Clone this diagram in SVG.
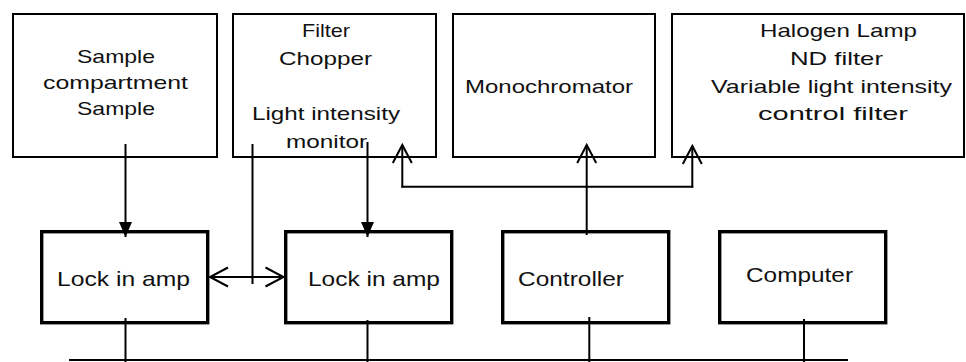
<svg xmlns="http://www.w3.org/2000/svg" width="966" height="362" viewBox="0 0 966 362">
<style>
.top rect{fill:#fff;stroke:#000;stroke-width:2}
.low rect{fill:#fff;stroke:#000;stroke-width:3.4}
text{font-family:"Liberation Sans",Arial,sans-serif;fill:#111;}
.t1{font-size:19px}
.t2{font-size:21px}
#connectors line,#connectors path{stroke:#000;stroke-width:2;fill:none}
</style>
<defs>
<marker id="open" markerUnits="userSpaceOnUse" markerWidth="22" markerHeight="22" refX="19" refY="10" orient="auto-start-reverse" overflow="visible">
<path d="M1,0.5 L19,10 L1,19.5" fill="none" stroke="#000" stroke-width="2"/>
</marker>
<marker id="fill" markerUnits="userSpaceOnUse" markerWidth="16" markerHeight="14" refX="15" refY="6.5" orient="auto" overflow="visible">
<path d="M0,0 L15,6.5 L0,13 Z" fill="#000"/>
</marker>
</defs>
<rect width="966" height="362" fill="#fff"/>

<g id="sample" class="top">
<rect x="13" y="14" width="204" height="143"/>
<text class="t1" x="77" y="63" textLength="78" lengthAdjust="spacingAndGlyphs">Sample</text>
<text class="t1" x="43" y="89" textLength="145" lengthAdjust="spacingAndGlyphs">compartment</text>
<text class="t1" x="77" y="115" textLength="78" lengthAdjust="spacingAndGlyphs">Sample</text>
</g>
<g id="filter" class="top">
<rect x="233" y="14" width="203" height="143"/>
<text class="t1" x="302" y="37" textLength="48" lengthAdjust="spacingAndGlyphs">Filter</text>
<text class="t1" x="279" y="65" textLength="93" lengthAdjust="spacingAndGlyphs">Chopper</text>
<text class="t1" x="252" y="120" textLength="148" lengthAdjust="spacingAndGlyphs">Light intensity</text>
<text class="t1" x="286" y="148" textLength="81" lengthAdjust="spacingAndGlyphs">monitor</text>
</g>
<g id="mono" class="top">
<rect x="453" y="14" width="202" height="143"/>
<text class="t1" x="465" y="93" textLength="168" lengthAdjust="spacingAndGlyphs">Monochromator</text>
</g>
<g id="halogen" class="top">
<rect x="672" y="14" width="292" height="143"/>
<text class="t1" x="760" y="37" textLength="157" lengthAdjust="spacingAndGlyphs">Halogen Lamp</text>
<text class="t1" x="790" y="65" textLength="93" lengthAdjust="spacingAndGlyphs">ND filter</text>
<text class="t1" x="711" y="93" textLength="241" lengthAdjust="spacingAndGlyphs">Variable light intensity</text>
<text class="t1" x="758" y="120" textLength="150" lengthAdjust="spacingAndGlyphs">control filter</text>
</g>

<g id="lia1" class="low">
<rect x="41.7" y="231.7" width="166" height="91"/>
<text class="t2" x="57" y="286" textLength="133" lengthAdjust="spacingAndGlyphs">Lock in amp</text>
</g>
<g id="lia2" class="low">
<rect x="285.7" y="231.7" width="166" height="91"/>
<text class="t2" x="308" y="286" textLength="132" lengthAdjust="spacingAndGlyphs">Lock in amp</text>
</g>
<g id="controller" class="low">
<rect x="502.7" y="231.7" width="166" height="91"/>
<text class="t2" x="518" y="286" textLength="106" lengthAdjust="spacingAndGlyphs">Controller</text>
</g>
<g id="computer" class="low">
<rect x="719.7" y="231.7" width="166" height="91"/>
<text class="t2" x="746" y="282" textLength="107" lengthAdjust="spacingAndGlyphs">Computer</text>
</g>

<g id="connectors">
<line x1="125.5" y1="144" x2="125.5" y2="237" marker-end="url(#fill)"/>
<line x1="367.5" y1="142" x2="367.5" y2="237" marker-end="url(#fill)"/>
<line x1="252.5" y1="144" x2="252.5" y2="284"/>
<line x1="210" y1="277" x2="283.5" y2="277" marker-start="url(#open)" marker-end="url(#open)"/>
<line x1="586.7" y1="235" x2="586.7" y2="145" marker-end="url(#open)"/>
<line x1="402.3" y1="187.5" x2="402.3" y2="145" marker-end="url(#open)"/>
<line x1="692.3" y1="187.5" x2="692.3" y2="146" marker-end="url(#open)"/>
<line x1="401.3" y1="186.7" x2="693.3" y2="186.7"/>
<line x1="69" y1="360" x2="848" y2="360"/>
<line x1="125.5" y1="318" x2="125.5" y2="362"/>
<line x1="367.5" y1="320" x2="367.5" y2="362"/>
<line x1="589.3" y1="317" x2="589.3" y2="362"/>
<line x1="804" y1="319" x2="804" y2="362"/>
</g>
</svg>
